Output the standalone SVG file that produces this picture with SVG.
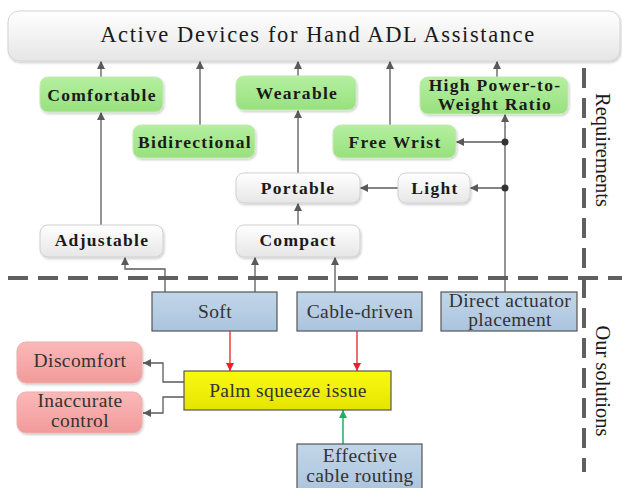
<svg xmlns="http://www.w3.org/2000/svg" width="622" height="488" viewBox="0 0 622 488">
<style>
.t{font-family:"Liberation Serif","Times New Roman",serif;fill:#1a1a1a;text-anchor:middle}
.b{font-weight:bold;font-size:17.5px;letter-spacing:1.3px}
.r{font-size:19.5px;fill:#333;letter-spacing:0.4px}
.c{fill:none;stroke:#5a5a5a;stroke-width:1.3}
.green{fill:url(#gG);stroke:#c8e8b8;stroke-width:1}
.white{fill:url(#gW);stroke:#d0d0d0;stroke-width:1}
.blue{fill:url(#gB);stroke:#555;stroke-width:1.2}
.red{fill:url(#gR);stroke:#e8b0b0;stroke-width:1}
.yellow{fill:url(#gY);stroke:#555;stroke-width:1.2}
.dash{fill:none;stroke:#606060;stroke-width:4;stroke-dasharray:20 10}
</style>
<defs>
<linearGradient id="gG" x1="0" y1="0" x2="0" y2="1"><stop offset="0" stop-color="#b4f0a0"/><stop offset="1" stop-color="#98e07e"/></linearGradient>
<linearGradient id="gW" x1="0" y1="0" x2="0" y2="1"><stop offset="0" stop-color="#ffffff"/><stop offset="1" stop-color="#e6e6e6"/></linearGradient>
<linearGradient id="gB" x1="0" y1="0" x2="0" y2="1"><stop offset="0" stop-color="#c2d6e8"/><stop offset="1" stop-color="#aac4de"/></linearGradient>
<linearGradient id="gR" x1="0" y1="0" x2="0" y2="1"><stop offset="0" stop-color="#fbb8b8"/><stop offset="1" stop-color="#f29a9a"/></linearGradient>
<linearGradient id="gY" x1="0" y1="0" x2="0" y2="1"><stop offset="0" stop-color="#fafa10"/><stop offset="1" stop-color="#e4e400"/></linearGradient>
<filter id="sh" x="-10%" y="-10%" width="120%" height="130%"><feDropShadow dx="1" dy="1.5" stdDeviation="1" flood-color="#000" flood-opacity="0.2"/></filter>
<marker id="a" viewBox="0 0 10 10" refX="10" refY="5" markerWidth="8" markerHeight="8" markerUnits="userSpaceOnUse" orient="auto"><path d="M0,0 L10,5 L0,10 z" fill="#5a5a5a"/></marker>
<marker id="aR" viewBox="0 0 10 10" refX="10" refY="5" markerWidth="8" markerHeight="8" markerUnits="userSpaceOnUse" orient="auto"><path d="M0,0 L10,5 L0,10 z" fill="#f02020"/></marker>
<marker id="aG" viewBox="0 0 10 10" refX="10" refY="5" markerWidth="8" markerHeight="8" markerUnits="userSpaceOnUse" orient="auto"><path d="M0,0 L10,5 L0,10 z" fill="#20b060"/></marker>
</defs>

<!-- separators -->
<g id="separators">
<line class="dash" x1="8" y1="278" x2="622" y2="278"/>
<line class="dash" x1="584" y1="68" x2="584" y2="472" stroke-width="3.5"/>
<text class="t" font-size="20.5" transform="translate(596,150) rotate(90)" fill="#333">Requirements</text>
<text class="t" font-size="20.5" transform="translate(596,381) rotate(90)" fill="#333">Our solutions</text>
</g>

<!-- connectors -->
<g id="connectors">
<line class="c" x1="101" y1="77" x2="101" y2="61" marker-end="url(#a)"/>
<line class="c" x1="200" y1="125" x2="200" y2="61" marker-end="url(#a)"/>
<line class="c" x1="298" y1="76" x2="298" y2="61" marker-end="url(#a)"/>
<line class="c" x1="390" y1="125" x2="390" y2="61" marker-end="url(#a)"/>
<line class="c" x1="497" y1="77" x2="497" y2="61" marker-end="url(#a)"/>
<line class="c" x1="101" y1="225" x2="101" y2="112" marker-end="url(#a)"/>
<line class="c" x1="298" y1="173" x2="298" y2="110" marker-end="url(#a)"/>
<line class="c" x1="298" y1="225" x2="298" y2="203" marker-end="url(#a)"/>
<line class="c" x1="398" y1="188" x2="360" y2="188" marker-end="url(#a)"/>
<line class="c" x1="505" y1="292" x2="505" y2="114" marker-end="url(#a)"/>
<line class="c" x1="505" y1="142" x2="456" y2="142" marker-end="url(#a)"/>
<line class="c" x1="505" y1="188" x2="470" y2="188" marker-end="url(#a)"/>
<circle cx="505" cy="142" r="3.5" fill="#333"/>
<circle cx="505" cy="188" r="3.5" fill="#333"/>
<polyline class="c" points="165,292 165,269 125,269 125,257" marker-end="url(#a)"/>
<line class="c" x1="255" y1="292" x2="255" y2="257" marker-end="url(#a)"/>
<line class="c" x1="335" y1="292" x2="335" y2="257" marker-end="url(#a)"/>
<line x1="230" y1="331" x2="230" y2="371" stroke="#f02020" stroke-width="1.3" marker-end="url(#aR)"/>
<line x1="357" y1="331" x2="357" y2="371" stroke="#f02020" stroke-width="1.3" marker-end="url(#aR)"/>
<line x1="343" y1="444" x2="343" y2="410" stroke="#20b060" stroke-width="1.5" marker-end="url(#aG)"/>
<polyline class="c" points="184,382 163,382 163,363 143,363" marker-end="url(#a)"/>
<polyline class="c" points="184,397 163,397 163,413 143,413" marker-end="url(#a)"/>
</g>

<!-- nodes -->
<g id="top">
<rect x="8" y="11" width="612" height="50" rx="11" fill="url(#gW)" stroke="#d4d4d4" filter="url(#sh)"/>
<text class="t" x="318" y="42" font-size="22.5" fill="#333" letter-spacing="1.6">Active Devices for Hand ADL Assistance</text>
</g>
<g id="comfortable"><rect class="green" x="40" y="77" width="123" height="35" rx="8" filter="url(#sh)"/><text class="t b" x="102" y="101">Comfortable</text></g>
<g id="bidirectional"><rect class="green" x="133" y="125" width="122" height="33" rx="8" filter="url(#sh)"/><text class="t b" x="195" y="148">Bidirectional</text></g>
<g id="wearable"><rect class="green" x="236" y="76" width="120" height="34" rx="8" filter="url(#sh)"/><text class="t b" x="297" y="99">Wearable</text></g>
<g id="freewrist"><rect class="green" x="333" y="125" width="123" height="33" rx="8" filter="url(#sh)"/><text class="t b" x="395" y="148">Free Wrist</text></g>
<g id="highpower"><rect class="green" x="420" y="77" width="148" height="37" rx="8" filter="url(#sh)"/><text class="t b" x="495" y="91" font-size="16" letter-spacing="1.8">High Power-to-</text><text class="t b" x="495" y="109.5" font-size="16" letter-spacing="1.8">Weight Ratio</text></g>
<g id="portable"><rect class="white" x="236" y="173" width="124" height="30" rx="8" filter="url(#sh)"/><text class="t b" x="298" y="194">Portable</text></g>
<g id="light"><rect class="white" x="398" y="173" width="72" height="30" rx="8" filter="url(#sh)"/><text class="t b" x="435" y="194">Light</text></g>
<g id="adjustable"><rect class="white" x="40" y="225" width="123" height="32" rx="8" filter="url(#sh)"/><text class="t b" x="102" y="246">Adjustable</text></g>
<g id="compact"><rect class="white" x="236" y="225" width="124" height="32" rx="8" filter="url(#sh)"/><text class="t b" x="298" y="246">Compact</text></g>
<g id="soft"><rect class="blue" x="152" y="292" width="125" height="39"/><text class="t r" x="215" y="318">Soft</text></g>
<g id="cabledriven"><rect class="blue" x="297" y="292" width="125" height="39"/><text class="t r" x="360" y="318">Cable-driven</text></g>
<g id="direct"><rect class="blue" x="441" y="292" width="136" height="39"/><text class="t r" x="510" y="307">Direct actuator</text><text class="t r" x="510" y="326">placement</text></g>
<g id="effective"><rect class="blue" x="297" y="444" width="125" height="50"/><text class="t r" x="360" y="462">Effective</text><text class="t r" x="360" y="482">cable routing</text></g>
<g id="palm"><rect class="yellow" x="184" y="371" width="207" height="39"/><text class="t r" x="288" y="397">Palm squeeze issue</text></g>
<g id="discomfort"><rect class="red" x="17" y="342" width="125" height="41" rx="9" filter="url(#sh)"/><text class="t r" x="80" y="367">Discomfort</text></g>
<g id="inaccurate"><rect class="red" x="17" y="392" width="125" height="41" rx="9" filter="url(#sh)"/><text class="t r" x="80" y="407">Inaccurate</text><text class="t r" x="80" y="427">control</text></g>
</svg>
